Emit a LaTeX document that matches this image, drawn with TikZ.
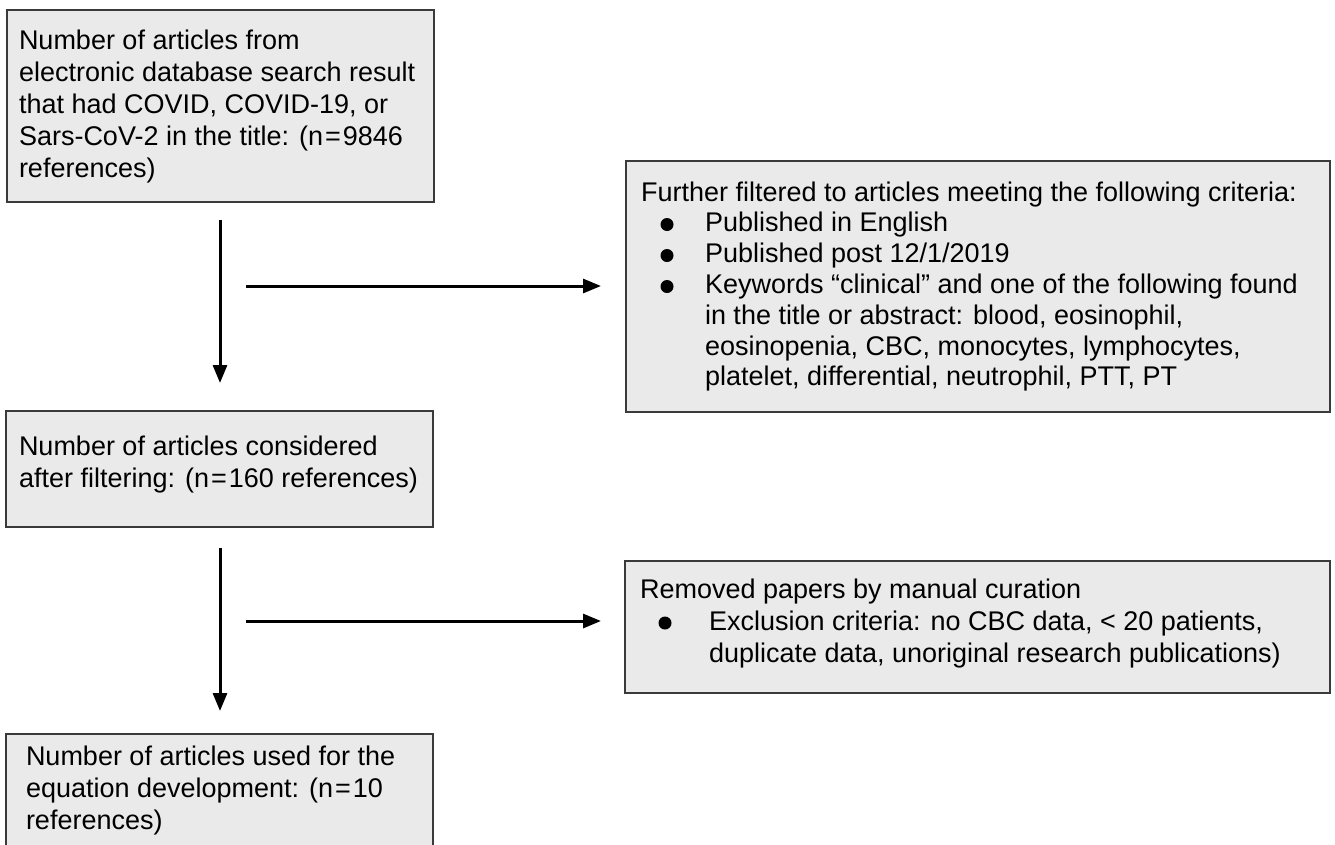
\documentclass[tikz,border=0pt]{standalone}
\usepackage{fontspec}
\setmainfont{Liberation Sans}
\usetikzlibrary{arrows.meta}
\definecolor{boxfill}{HTML}{EAEAEA}
\definecolor{boxline}{HTML}{3A3A3A}
\begin{document}
\begin{tikzpicture}[x=1pt,y=-1pt,
  box/.style={draw=boxline, line width=1.5pt, fill=boxfill, anchor=north west, inner sep=0pt, outer sep=0pt},
  txt/.style={anchor=base west, inner sep=0pt, outer sep=0pt, font=\fontsize{27pt}{32pt}\selectfont},
  txttight/.style={txt, font=\fontsize{27pt}{30.8pt}\selectfont},
  arr/.style={line width=3pt, -{Triangle[length=18pt,width=14pt]}},
  bul/.style={fill=black}]
\useasboundingbox (0,0) rectangle (1335,844);

% boxes
\node[box, minimum width=427pt, minimum height=192pt] (b1) at (7,10) {};
\node[box, minimum width=704pt, minimum height=251pt] (b2) at (626,161) {};
\node[box, minimum width=427pt, minimum height=116pt] (b3) at (6,411) {};
\node[box, minimum width=705pt, minimum height=132pt] (b4) at (625,561) {};
\node[box, minimum width=427pt, minimum height=125pt] (b5) at (6,734) {};

% texts
\node[txt] (t1) at (19,49) {\parbox[t]{600pt}{Number of articles from\\electronic database search result\\that had COVID, COVID-19, or\\Sars-CoV-2 in the title: (n\kern2pt=\kern2pt9846\\references)}};
\node[txttight] (t2) at (641,201) {\parbox[t]{700pt}{Further filtered to articles meeting the following criteria:\\\hspace*{64pt}Published in English\\\hspace*{64pt}Published post 12/1/2019\\\hspace*{64pt}Keywords “clinical” and one of the following found\\\hspace*{64pt}in the title or abstract: blood, eosinophil,\\\hspace*{64pt}eosinopenia, CBC, monocytes, lymphocytes,\\\hspace*{64pt}platelet, differential, neutrophil, PTT, PT}};
\node[txt] (t3) at (19,455) {\parbox[t]{600pt}{Number of articles considered\\after filtering: (n\kern2pt=\kern2pt160 references)}};
\node[txt] (t4) at (640,598) {\parbox[t]{700pt}{Removed papers by manual curation\\\hspace*{69pt}Exclusion criteria: no CBC data, < 20 patients,\\\hspace*{69pt}duplicate data, unoriginal research publications)}};
\node[txt] (t5) at (26,765) {\parbox[t]{600pt}{Number of articles used for the\\equation development: (n\kern2pt=\kern2pt10\\references)}};

% bullets
\fill[bul] (667,224.5) circle (6.5pt);
\fill[bul] (667,255.5) circle (6.5pt);
\fill[bul] (667,286.5) circle (6.5pt);
\fill[bul] (665,623) circle (6.5pt);

% connectors
\coordinate (a1s) at (220,220);
\coordinate (a1e) at (220,383);
\coordinate (h1s) at (246,286);
\coordinate (h1e) at (601,286);
\coordinate (a2s) at (220,548);
\coordinate (a2e) at (220,711);
\coordinate (h2s) at (246,621);
\coordinate (h2e) at (601,621);
\draw[arr] (a1s) -- (a1e);
\draw[arr] (h1s) -- (h1e);
\draw[arr] (a2s) -- (a2e);
\draw[arr] (h2s) -- (h2e);
\end{tikzpicture}
\end{document}
